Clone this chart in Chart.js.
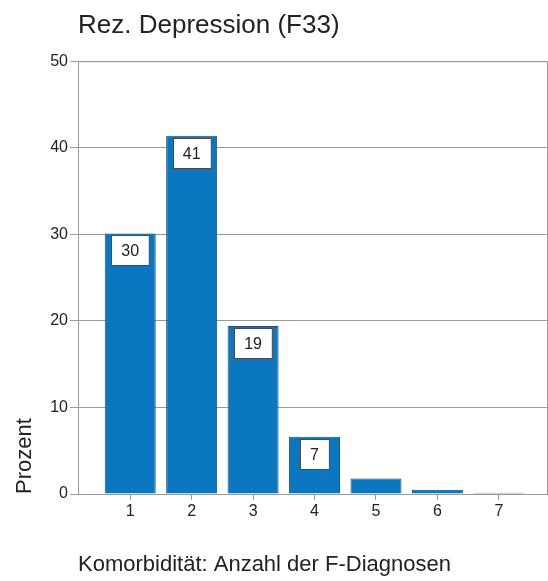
<!DOCTYPE html>
<html>
<head>
<meta charset="utf-8">
<script src="https://cdn.jsdelivr.net/npm/chart.js@4"></script>
<style>
  body { margin: 0; background: #fff; }
  #wrap { width: 548px; height: 581px; position: relative; }
</style>
</head>
<body>
<div id="wrap"><canvas id="chart"></canvas></div>
<script>
// values
const categories = [1, 2, 3, 4, 5, 6, 7];
const percent = [30.1, 41.4, 19.4, 6.6, 1.8, 0.5, 0.15];
const valueLabels = ['30', '41', '19', '7', '', '', ''];
const yTicks = [0, 10, 20, 30, 40, 50];

const FONT = '"Liberation Sans", Arial, sans-serif';

// grey frame round the plot area
const framePlugin = {
  id: 'frame',
  beforeDatasetsDraw(chart) {
    const a = chart.chartArea;
    const ctx = chart.ctx;
    ctx.save();
    ctx.strokeStyle = '#9a9a9a';
    ctx.lineWidth = 1;
    ctx.strokeRect(a.left + 0.5, a.top + 0.5, a.right - a.left - 1, a.bottom - a.top);
    ctx.restore();
  }
};

// white value boxes just under the bar top
const boxLabels = {
  id: 'boxLabels',
  afterDatasetsDraw(chart) {
    const ctx = chart.ctx;
    const bars = chart.getDatasetMeta(0).data;
    ctx.save();
    ctx.font = '16px ' + FONT;
    ctx.textAlign = 'center';
    ctx.textBaseline = 'middle';
    bars.forEach(function(bar, i) {
      const txt = valueLabels[i];
      if (!txt) return;
      const w = ctx.measureText(txt).width + 20;
      const h = 30;
      const x = Math.round(bar.x - w / 2) + 0.5;
      const y = Math.round(bar.y + 2) + 0.5;
      ctx.fillStyle = '#fff';
      ctx.fillRect(x, y, w, h);
      ctx.strokeStyle = '#4a4a4a';
      ctx.lineWidth = 1;
      ctx.strokeRect(x, y, w, h);
      ctx.fillStyle = '#222';
      ctx.fillText(txt, bar.x, y + h / 2 + 1);
    });
    ctx.restore();
  }
};

new Chart(document.getElementById('chart'), {
  type: 'bar',
  data: {
    labels: categories,
    datasets: [{
      data: percent,
      backgroundColor: '#0a77c0',
      borderColor: '#1d4f7a',
      borderWidth: 1,
      categoryPercentage: 1,
      barPercentage: 0.83
    }]
  },
  options: {
    responsive: true,
    maintainAspectRatio: false,
    animation: false,
    layout: { padding: 0 },
    plugins: {
      legend: { display: false },
      tooltip: { enabled: false },
      title: {
        display: true,
        text: 'Rez. Depression (F33)',
        align: 'start',
        fullSize: false,
        color: '#222',
        font: { family: FONT, size: 26, weight: 'normal' },
        padding: { top: 10, bottom: 20 }
      }
    },
    scales: {
      x: {
        type: 'linear',
        offset: false,
        min: 0.15,
        max: 7.8,
        afterBuildTicks: function(axis) {
          axis.ticks = categories.map(v => ({ value: v }));
        },
        afterFit: function(scale) { scale.height = 87; },
        grid: { offset: false, drawOnChartArea: false, drawTicks: true, tickLength: 6, color: '#9a9a9a' },
        border: { color: '#9a9a9a' },
        ticks: { color: '#222', font: { family: FONT, size: 16 }, padding: 2, maxRotation: 0 },
        title: {
          display: true,
          text: 'Komorbidität: Anzahl der F-Diagnosen',
          align: 'start',
          color: '#222',
          font: { family: FONT, size: 22 },
          padding: { top: 0, bottom: 3 }
        }
      },
      y: {
        min: 0,
        max: 50,
        afterBuildTicks: function(axis) {
          axis.ticks = yTicks.map(v => ({ value: v }));
        },
        afterFit: function(scale) { scale.width = 78; },
        grid: { color: '#9a9a9a', tickLength: 8 },
        border: { color: '#9a9a9a' },
        ticks: { color: '#222', font: { family: FONT, size: 16 }, padding: 2 },
        title: {
          display: true,
          text: 'Prozent',
          align: 'start',
          color: '#222',
          font: { family: FONT, size: 22 },
          padding: { top: 12, bottom: 0 }
        }
      }
    }
  },
  plugins: [framePlugin, boxLabels]
});
</script>
</body>
</html>
